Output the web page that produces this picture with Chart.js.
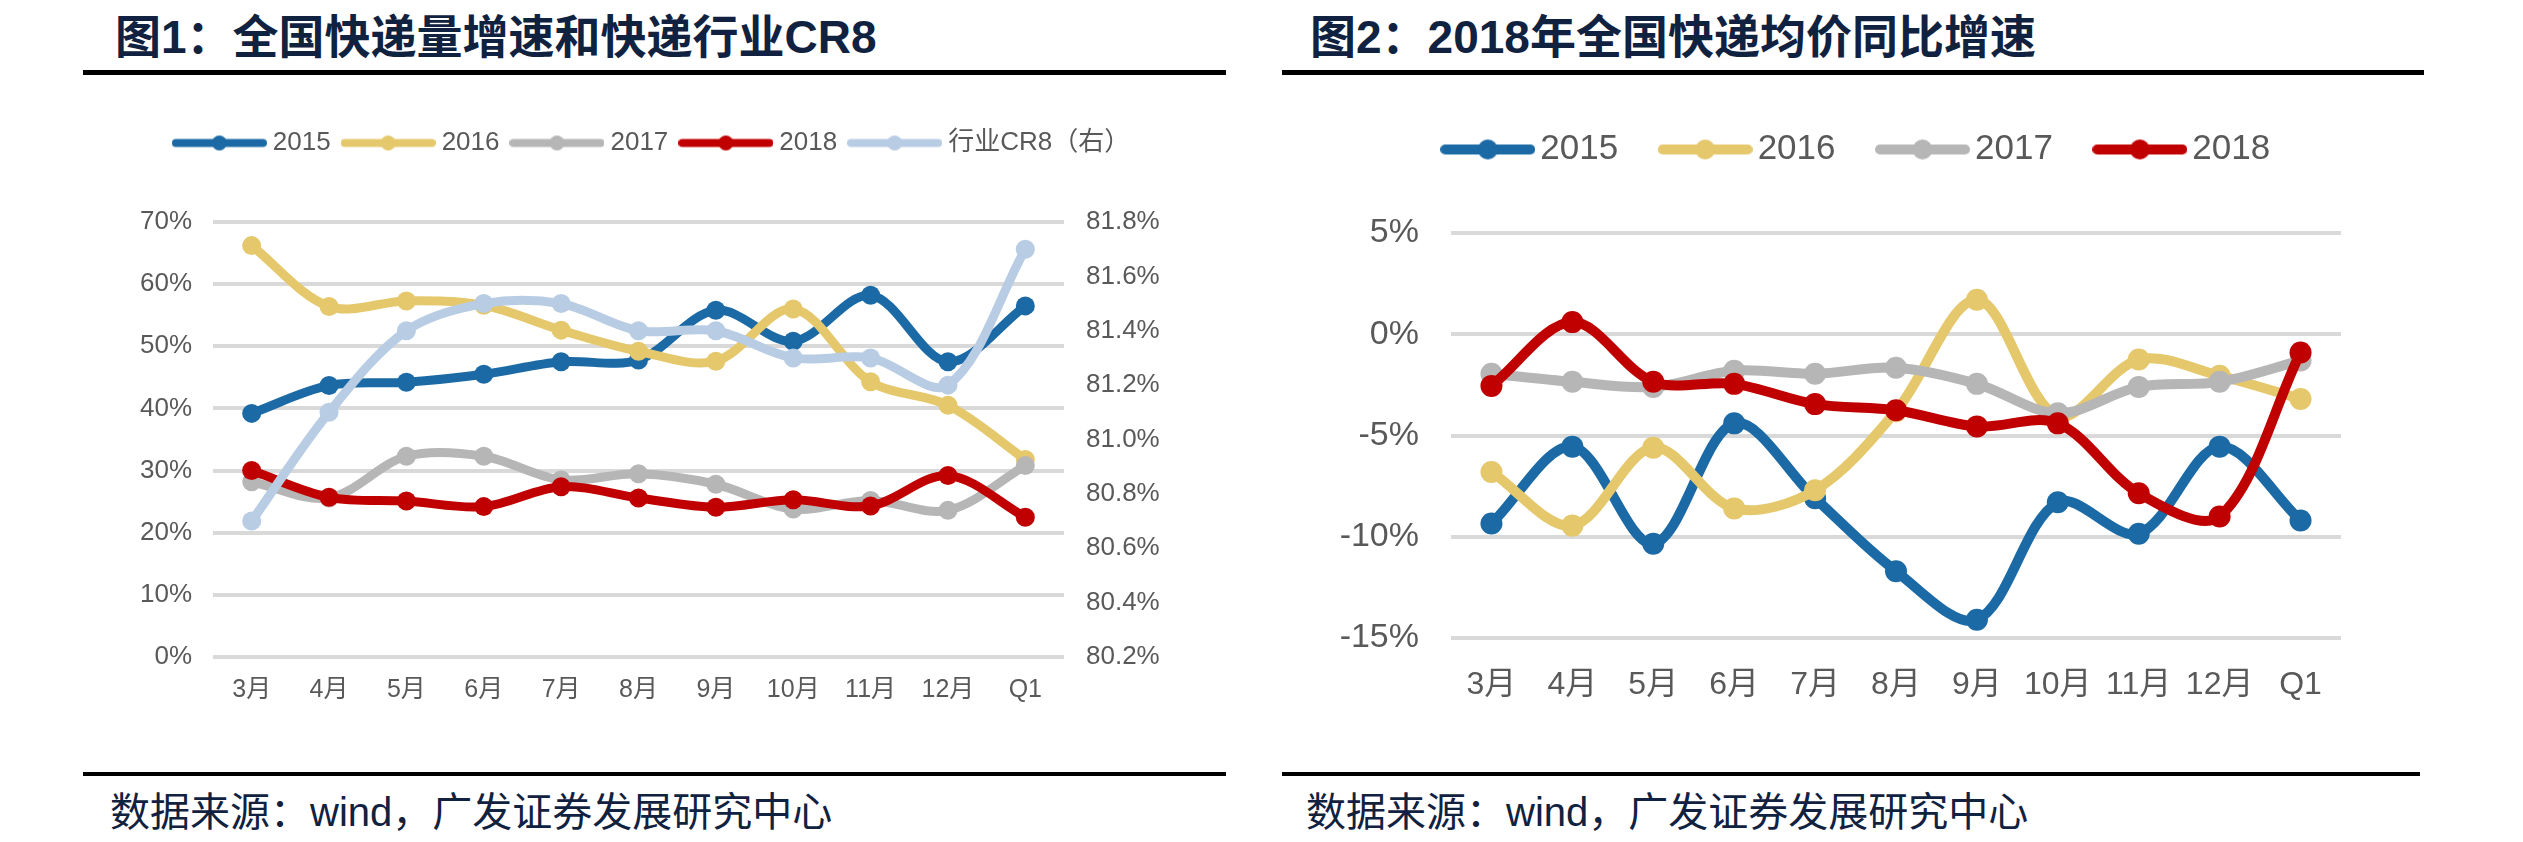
<!DOCTYPE html>
<html>
<head>
<meta charset="utf-8">
<script src="https://cdn.jsdelivr.net/npm/chart.js@4.4.1/dist/chart.umd.min.js"></script>
<style>
  html, body { margin: 0; padding: 0; background: #fff; }
  body { width: 2523px; height: 842px; position: relative; overflow: hidden; }
  .title { position: absolute; top: 14px; height: 46px; line-height: 46px; font-size: 46px; font-weight: 700;
    font-family: "Liberation Sans", "Noto Sans CJK SC", sans-serif; color: #10223f; white-space: nowrap; }
  .rule { position: absolute; background: #000; }
  .foot { position: absolute; top: 792px; height: 40px; line-height: 40px; font-size: 40px;
    font-family: "Liberation Sans", "Noto Sans CJK SC", sans-serif; color: #10223f; white-space: nowrap; }
  canvas { position: absolute; }
</style>
</head>
<body>
<div class="title" style="left:115px">图1：全国快递量增速和快递行业CR8</div>
<div class="title" style="left:1310px">图2：2018年全国快递均价同比增速</div>
<div class="rule" style="left:83px;top:70px;width:1143px;height:5px"></div>
<div class="rule" style="left:1282px;top:70px;width:1142px;height:5px"></div>
<div class="rule" style="left:83px;top:772px;width:1143px;height:4px"></div>
<div class="rule" style="left:1282px;top:772px;width:1138px;height:4px"></div>
<div class="foot" style="left:110px">数据来源：wind，广发证券发展研究中心</div>
<div class="foot" style="left:1306px">数据来源：wind，广发证券发展研究中心</div>

<canvas id="volChart" width="1143" height="690" style="left:83px;top:80px"></canvas>
<canvas id="priceChart" width="1142" height="690" style="left:1282px;top:80px"></canvas>

<script>
// x categories (shared)
var months = ["3月", "4月", "5月", "6月", "7月", "8月", "9月", "10月", "11月", "12月", "Q1"];

// chart 1: express volume growth (%), left axis
var vol_2015 = [39.2, 43.7, 44.2, 45.5, 47.5, 47.8, 55.8, 50.8, 58.2, 47.5, 56.5];
var vol_2016 = [66.2, 56.4, 57.3, 56.6, 52.6, 49.2, 47.6, 56.0, 44.3, 40.5, 31.8];
var vol_2017 = [28.2, 25.6, 32.3, 32.3, 28.5, 29.5, 27.8, 23.8, 25.2, 23.6, 30.8];
var vol_2018 = [30.0, 25.7, 25.1, 24.2, 27.4, 25.6, 24.1, 25.3, 24.3, 29.2, 22.5];
// industry CR8 (%), right axis
var cr8 = [80.7, 81.1, 81.4, 81.5, 81.5, 81.4, 81.4, 81.3, 81.3, 81.2, 81.7];

// chart 2: average price yoy (%)
var price_2015 = [-9.35, -5.55, -10.35, -4.4, -8.1, -11.7, -14.1, -8.3, -9.85, -5.55, -9.2];
var price_2016 = [-6.8, -9.45, -5.6, -8.6, -7.7, -3.8, 1.7, -4.05, -1.25, -2.05, -3.2];
var price_2017 = [-1.95, -2.35, -2.6, -1.8, -1.95, -1.65, -2.45, -3.9, -2.6, -2.35, -1.3];
var price_2018 = [-2.55, 0.6, -2.35, -2.45, -3.45, -3.75, -4.55, -4.4, -7.85, -9.0, -0.9];

var C_BLUE = "#1b6aa5", C_YELLOW = "#e5c86c", C_GRAY = "#b6b6b6", C_RED = "#c00000", C_LIGHT = "#b8cce4";
var TXT = "#595959";
var FONT = "'Liberation Sans', 'Noto Sans CJK SC', sans-serif";

// legend icon: thick line with a dot in the middle
function legendIcon(color, w, lw, r) {
    var c = document.createElement("canvas");
    c.width = w;
    c.height = r * 2 + 2;
    var g = c.getContext("2d");
    g.strokeStyle = color;
    g.fillStyle = color;
    g.lineWidth = lw;
    g.lineCap = "round";
    g.beginPath();
    g.moveTo(lw / 2, c.height / 2);
    g.lineTo(w - lw / 2, c.height / 2);
    g.stroke();
    g.beginPath();
    g.arc(w / 2, c.height / 2, r, 0, Math.PI * 2);
    g.fill();
    return c;
}

// push the plot area down below the legend, and nudge the legend sideways
function legendGap(extra, dx) {
    return {
        id: "legendGap",
        beforeInit(chart) {
            const fit = chart.legend.fit;
            chart.legend.fit = function () {
                fit.call(this);
                this.height += extra;
            };
        },
        afterLayout(chart) {
            chart.legend.left += dx;
            chart.legend.right += dx;
        },
    };
}

function makeLabels(lw, r) {
    return function (chart) {
        return chart.data.datasets.map(function (ds, i) {
            return {
                text: ds.label,
                fillStyle: ds.borderColor,
                strokeStyle: ds.borderColor,
                lineWidth: 0,
                pointStyle: legendIcon(ds.borderColor, 95, lw, r),
                hidden: false,
                datasetIndex: i,
                fontColor: TXT,
            };
        });
    };
}

function line(label, data, color, order, lw, r, axis) {
    return {
        label: label,
        data: data,
        borderColor: color,
        backgroundColor: color,
        borderWidth: lw,
        pointRadius: r,
        pointBorderWidth: 0,
        pointBackgroundColor: color,
        tension: 0.33,
        fill: false,
        clip: false,
        order: order,
        yAxisID: axis || "y",
    };
}

new Chart(document.getElementById("volChart"), {
    type: "line",
    data: {
        labels: months,
        datasets: [
            line("2015", vol_2015, C_BLUE, 5, 9, 9.5),
            line("2016", vol_2016, C_YELLOW, 4, 9, 9.5),
            line("2017", vol_2017, C_GRAY, 3, 9, 9.5),
            line("2018", vol_2018, C_RED, 2, 9, 9.5),
            line("行业CR8（右）", cr8, C_LIGHT, 1, 9, 9.5, "y1"),
        ],
    },
    plugins: [legendGap(56, 0)],
    options: {
        responsive: false,
        animation: false,
        layout: { padding: { top: 33, left: 0, right: 0, bottom: 0 } },
        plugins: {
            tooltip: { enabled: false },
            legend: {
                position: "top",
                labels: {
                    usePointStyle: true,
                    pointStyleWidth: 81,
                    padding: 17,
                    color: TXT,
                    font: { family: FONT, size: 26 },
                    generateLabels: makeLabels(8, 7.5),
                },
            },
        },
        scales: {
            x: {
                offset: true,
                grid: { display: false, drawTicks: false },
                border: { display: false },
                ticks: { color: TXT, font: { family: FONT, size: 25 }, padding: 18, maxRotation: 0 },
                afterFit: function (s) { s.height = 113; },
            },
            y: {
                position: "left",
                min: 0,
                max: 70,
                grid: { color: "#d9d9d9", lineWidth: 4, drawTicks: false },
                border: { display: false },
                ticks: {
                    stepSize: 10,
                    padding: 21,
                    color: TXT,
                    font: { family: FONT, size: 26 },
                    callback: function (v) { return v + "%"; },
                },
                afterFit: function (s) { s.width = 130; },
            },
            y1: {
                position: "right",
                min: 80.2,
                max: 81.8,
                grid: { display: false, drawTicks: false },
                border: { display: false },
                ticks: {
                    stepSize: 0.2,
                    padding: 22,
                    color: TXT,
                    font: { family: FONT, size: 26 },
                    callback: function (v) { return v.toFixed(1) + "%"; },
                },
                afterFit: function (s) { s.width = 162; },
            },
        },
    },
});

new Chart(document.getElementById("priceChart"), {
    type: "line",
    data: {
        labels: months,
        datasets: [
            line("2015", price_2015, C_BLUE, 4, 10, 11),
            line("2016", price_2016, C_YELLOW, 3, 10, 11),
            line("2017", price_2017, C_GRAY, 2, 10, 11),
            line("2018", price_2018, C_RED, 1, 10, 11),
        ],
    },
    plugins: [legendGap(56, 50)],
    options: {
        responsive: false,
        animation: false,
        layout: { padding: { top: 0, left: 0, right: 83, bottom: 0 } },
        plugins: {
            tooltip: { enabled: false },
            legend: {
                position: "top",
                labels: {
                    usePointStyle: true,
                    pointStyleWidth: 70,
                    padding: 52,
                    color: TXT,
                    font: { family: FONT, size: 35 },
                    generateLabels: makeLabels(10, 10),
                },
            },
        },
        scales: {
            x: {
                offset: true,
                grid: { display: false, drawTicks: false },
                border: { display: false },
                ticks: { color: TXT, font: { family: FONT, size: 32 }, padding: 28, maxRotation: 0 },
                afterFit: function (s) { s.height = 132; },
            },
            y: {
                min: -15,
                max: 5,
                grid: { color: "#d9d9d9", lineWidth: 4, drawTicks: false },
                border: { display: false },
                ticks: {
                    stepSize: 5,
                    padding: 32,
                    color: TXT,
                    font: { family: FONT, size: 34 },
                    callback: function (v) { return v + "%"; },
                },
                afterFit: function (s) { s.width = 169; },
            },
        },
    },
});
</script>
</body>
</html>
